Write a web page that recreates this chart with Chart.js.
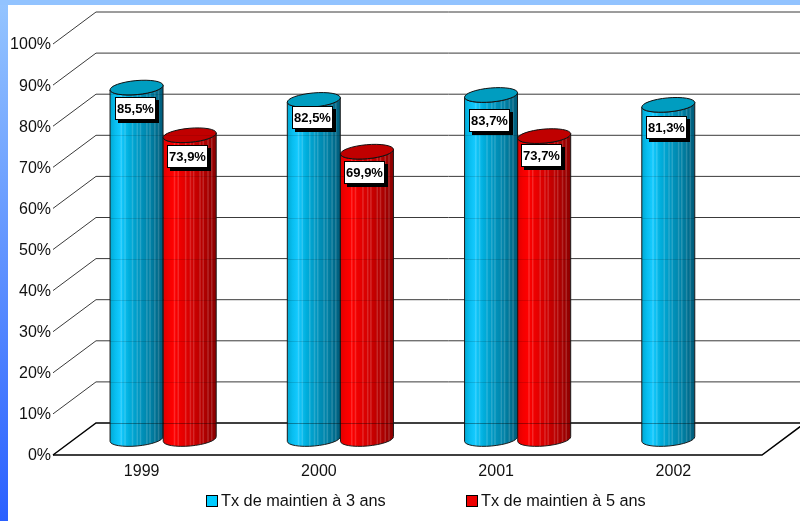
<!DOCTYPE html>
<html>
<head>
<meta charset="utf-8">
<title>Tx de maintien</title>
<script src="https://cdn.jsdelivr.net/npm/chart.js@4"></script>
<style>
  html, body { margin: 0; padding: 0; width: 800px; height: 521px; overflow: hidden; background: #fff; }
  #frame { position: absolute; left: 0; top: 0; width: 800px; height: 521px;
           background: linear-gradient(to bottom, #95c5ff, #2a60ff); }
  #top { position: absolute; left: 0; top: 0; width: 800px; height: 5px; background: #92c3ff; }
  #page { position: absolute; left: 8px; top: 5px; width: 792px; height: 516px; background: #fff; }
  canvas { position: absolute; left: 0; top: 0; }
</style>
</head>
<body>
<div id="frame"></div>
<div id="top"></div>
<div id="page"></div>
<canvas id="chart" width="800" height="521"></canvas>
<script>
const years = ["1999", "2000", "2001", "2002"];
const maintien3 = [85.5, 82.5, 83.7, 81.3];
const maintien5 = [73.9, 69.9, 73.7, null];
const label3 = "Tx de maintien à 3 ans";
const label5 = "Tx de maintien à 5 ans";

const FONT = "'Liberation Sans', Arial, sans-serif";
// 3D box offsets
const DEPTH_X = 43, DEPTH_Y = 32;
const RY = 7, TILT = -0.09;
// the value labels were moved by hand in the original, per dataset and year
const labelNudgeX = [1, 0];
const labelNudgeY = [[0, -3, 5, 2], [1, 0, -1, 0]];

const palettes = {
  blue: {
    stops: [[0, "#00a8d2"], [0.1, "#08bef0"], [0.2, "#14caff"], [0.36, "#00aedc"],
            [0.55, "#0096c0"], [0.78, "#007ea2"], [1, "#005a78"]],
    top: "#009dc0", legend: "#00ccff"
  },
  red: {
    stops: [[0, "#e00000"], [0.1, "#f40000"], [0.2, "#ff0000"], [0.36, "#e80000"],
            [0.55, "#d00000"], [0.78, "#b00000"], [1, "#8a0000"]],
    top: "#c00000", legend: "#ee0000"
  }
};
const streaks = [0.2, 0.27, 0.41, 0.5, 0.56, 0.68, 0.74, 0.83, 0.9];

function drawCylinder(ctx, cx, top, base, rx, pal) {
  const g = ctx.createLinearGradient(cx - rx, 0, cx + rx, 0);
  pal.stops.forEach(s => g.addColorStop(s[0], s[1]));

  ctx.beginPath();
  ctx.ellipse(cx, top, rx, RY, TILT, Math.PI, 0, true);
  ctx.ellipse(cx, base, rx, RY, TILT, 0, Math.PI, false);
  ctx.closePath();
  ctx.fillStyle = g;
  ctx.fill();

  // light vertical stripes of the faceted cylinder
  ctx.save();
  ctx.clip();
  ctx.fillStyle = "rgba(255,255,255,0.16)";
  streaks.forEach(f => ctx.fillRect(cx - rx + f * 2 * rx, top - RY * 2, 1.5, base - top + RY * 4));
  ctx.restore();

  ctx.strokeStyle = "#1a1a1a";
  ctx.lineWidth = 1;
  ctx.stroke();

  ctx.beginPath();
  ctx.ellipse(cx, top, rx, RY, TILT, 0, Math.PI * 2);
  ctx.fillStyle = pal.top;
  ctx.fill();
  ctx.strokeStyle = "#111";
  ctx.stroke();
}

const box3d = {
  id: "box3d",
  beforeDatasetsDraw(chart) {
    const { ctx, data, scales: { y }, chartArea: a } = chart;
    y.ticks.forEach(t => {
      const py = y.getPixelForValue(t.value);
      const isFloor = t.value === 0;
      ctx.beginPath();
      ctx.moveTo(a.left, py);
      ctx.lineTo(a.left + DEPTH_X, py - DEPTH_Y);
      ctx.lineTo(a.right + DEPTH_X, py - DEPTH_Y);
      ctx.strokeStyle = isFloor ? "#000" : "#3a3a3a";
      ctx.lineWidth = isFloor ? 1.5 : 1;
      ctx.stroke();
    });
    const py0 = y.getPixelForValue(0);
    ctx.beginPath();
    ctx.moveTo(a.left, py0);
    ctx.lineTo(a.right, py0);
    ctx.lineTo(a.right + DEPTH_X, py0 - DEPTH_Y);
    ctx.strokeStyle = "#000";
    ctx.lineWidth = 1.5;
    ctx.stroke();

    // cylinders, left to right, so each one overlaps the previous
    ctx.save();
    ctx.translate(DEPTH_X / 2, -DEPTH_Y / 2);
    years.forEach((_, i) => data.datasets.forEach((ds, d) => {
      if (ds.data[i] == null) return;
      const p = chart.getDatasetMeta(d).data[i].getProps(["x", "y", "base", "width"], true);
      drawCylinder(ctx, p.x, p.y, p.base, p.width / 2, ds.palette);
    }));
    ctx.restore();
  },
  beforeDatasetDraw() {
    return false;
  },
  afterDatasetsDraw(chart) {
    const { ctx, data, scales: { y }, chartArea: a } = chart;
    // grid shows faintly through the cylinders
    ctx.save();
    ctx.beginPath();
    data.datasets.forEach((ds, d) => chart.getDatasetMeta(d).data.forEach((el, i) => {
      if (ds.data[i] == null) return;
      const p = el.getProps(["x", "y", "base", "width"], true);
      ctx.rect(p.x - p.width / 2 + DEPTH_X / 2, p.y - DEPTH_Y / 2, p.width, p.base - p.y);
    }));
    ctx.clip();
    y.ticks.forEach(t => {
      const py = Math.round(y.getPixelForValue(t.value) - DEPTH_Y) + 0.5;
      ctx.beginPath();
      ctx.moveTo(a.left, py);
      ctx.lineTo(a.right + DEPTH_X, py);
      ctx.strokeStyle = t.value === 0 ? "rgba(0,0,0,0.35)" : "rgba(0,0,0,0.12)";
      ctx.lineWidth = 1;
      ctx.stroke();
    });
    ctx.restore();

    // value labels
    data.datasets.forEach((ds, d) => chart.getDatasetMeta(d).data.forEach((el, i) => {
      const v = ds.data[i];
      if (v == null) return;
      const p = el.getProps(["x", "y"], true);
      const w = 41, h = 23;
      const bx = Math.round(p.x + DEPTH_X / 2 - 23) + labelNudgeX[d];
      const by = Math.round(p.y - DEPTH_Y / 2 + 9) + labelNudgeY[d][i];
      ctx.fillStyle = "#000";
      ctx.fillRect(bx + 3, by + 3, w, h);
      ctx.fillStyle = "#fff";
      ctx.fillRect(bx, by, w, h);
      ctx.strokeStyle = "#000";
      ctx.lineWidth = 1;
      ctx.strokeRect(bx + 0.5, by + 0.5, w - 1, h - 1);
      ctx.fillStyle = "#000";
      ctx.font = "bold 13px " + FONT;
      ctx.textAlign = "center";
      ctx.textBaseline = "middle";
      ctx.fillText(v.toFixed(1).replace(".", ",") + "%", bx + w / 2, by + h / 2 + 0.5);
    }));

    // legend
    const entries = [[206, data.datasets[0]], [466, data.datasets[1]]];
    ctx.font = "16.3px " + FONT;
    ctx.textAlign = "left";
    ctx.textBaseline = "middle";
    entries.forEach(([lx, ds]) => {
      ctx.fillStyle = ds.palette.legend;
      ctx.fillRect(lx + 0.5, 495.5, 11, 11);
      ctx.strokeStyle = "#000";
      ctx.lineWidth = 1;
      ctx.strokeRect(lx + 0.5, 495.5, 11, 11);
      ctx.fillStyle = "#111";
      ctx.fillText(ds.label, lx + 15, 502);
    });
  }
};

new Chart(document.getElementById("chart"), {
  type: "bar",
  data: {
    labels: years,
    datasets: [
      { label: label3, data: maintien3, backgroundColor: palettes.blue.legend, palette: palettes.blue },
      { label: label5, data: maintien5, backgroundColor: palettes.red.legend, palette: palettes.red }
    ]
  },
  options: {
    responsive: false,
    animation: false,
    layout: { padding: { top: 44, right: 38, bottom: 0, left: 0 } },
    datasets: { bar: { categoryPercentage: 0.6, barPercentage: 1 } },
    plugins: { legend: { display: false }, tooltip: { enabled: false } },
    scales: {
      x: {
        grid: { display: false, drawTicks: false },
        border: { display: false },
        ticks: { padding: 7, color: "#111", font: { family: FONT, size: 16 } },
        afterFit(s) { s.height = 66; }
      },
      y: {
        min: 0,
        max: 100,
        grid: { display: false, drawTicks: false },
        border: { display: false },
        ticks: { stepSize: 10, padding: 2, labelOffset: 1, color: "#111", font: { family: FONT, size: 16 },
                 callback: v => v + "%" },
        afterFit(s) { s.width = 53; }
      }
    }
  },
  plugins: [box3d]
});
</script>
</body>
</html>
